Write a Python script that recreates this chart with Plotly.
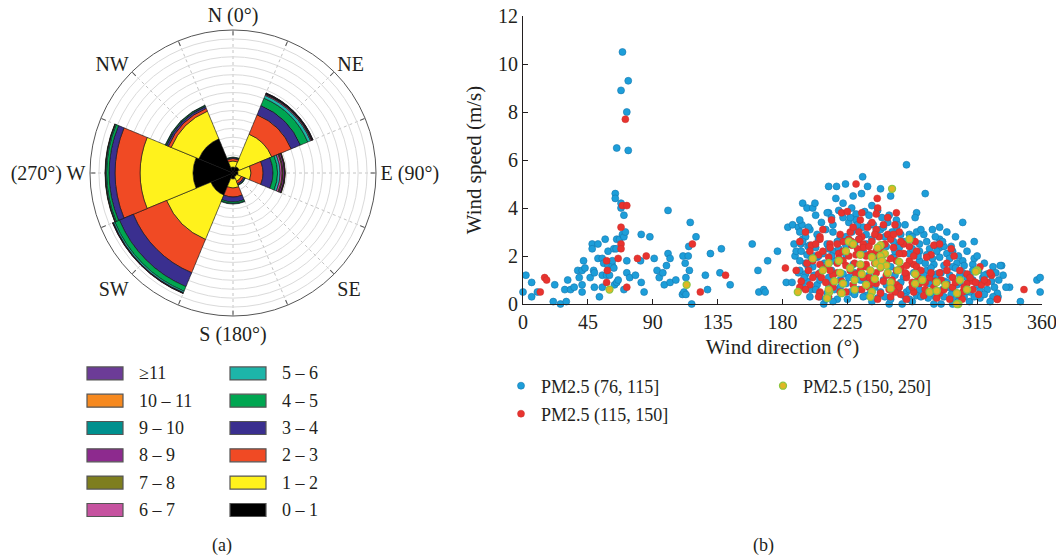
import plotly.graph_objects as go

# ---------------- Wind rose data (frequency units, stacked by speed bin) -------------
directions = [0, 45, 90, 135, 180, 225, 270, 315]
bin_labels = ["0 – 1", "1 – 2", "2 – 3", "3 – 4", "4 – 5", "5 – 6",
              "6 – 7", "7 – 8", "8 – 9", "9 – 10", "10 – 11", "≥11"]
bin_colors = ["#000000", "#FFF21C", "#F04A24", "#3A2F8F", "#00A651", "#1DB5A9",
              "#C653A0", "#7E7E1E", "#8D2A8E", "#00908E", "#F6891F", "#6C3C97"]
#            N     NE    E     SE    S     SW    W     NW
f_0_1   = [0.67, 0.78, 0.56, 0.45, 0.67, 2.68, 4.47, 4.14]
f_1_2   = [0.67, 3.92, 1.45, 0.56, 1.01, 5.37, 5.93, 3.35]
f_2_3   = [0.28, 2.35, 1.35, 0.28, 1.00, 4.03, 2.80, 0.34]
f_3_4   = [0.11, 1.12, 1.11, 0.16, 0.56, 1.68, 0.67, 0.22]
f_4_5   = [0.06, 0.89, 0.51, 0.06, 0.17, 0.56, 0.28, 0.12]
f_5_6   = [0.00, 0.34, 0.28, 0.00, 0.06, 0.17, 0.11, 0.05]
f_6_7   = [0.00, 0.11, 0.22, 0.00, 0.00, 0.05, 0.03, 0.00]
f_7_8   = [0.00, 0.05, 0.11, 0.00, 0.00, 0.03, 0.03, 0.00]
f_8_9   = [0.00, 0.06, 0.17, 0.00, 0.00, 0.03, 0.00, 0.00]
f_9_10  = [0.00, 0.03, 0.05, 0.00, 0.00, 0.00, 0.00, 0.00]
f_10_11 = [0.00, 0.02, 0.03, 0.00, 0.00, 0.00, 0.00, 0.00]
f_ge11  = [0.00, 0.03, 0.00, 0.00, 0.00, 0.00, 0.00, 0.00]
freqs = [f_0_1, f_1_2, f_2_3, f_3_4, f_4_5, f_5_6, f_6_7, f_7_8, f_8_9, f_9_10, f_10_11, f_ge11]

compass_vals = [i * 22.5 for i in range(16)]
compass_text = ["N (0°)", "", "NE", "", "E (90°)", "", "SE", "", "S (180°)", "",
                "SW", "", "(270°) W", "", "NW", ""]

# ---------------- Scatter data: (wind direction °, wind speed m/s) ------------------
blue_pts = [
    (0,0.5),(2,1.2),(6,0.9),(6,0.3),(10,0.5),(21,0.1),(22,0.8),(26,0),(29,0.6),(30,0.1),
    (31,1.0),(33,0.6),(35.5,0.7),(38,1.4),(39,1.1),(41,1.4),(41,0.8),(41,0.5),(42,1.8),(43,1.5),
    (46.6,1.1),(48,2.5),(48,2.3),(49,1.4),(49.5,1.3),(49.5,0.7),(52,2.5),(52,1.9),(53,0.3),(55,0.7),
    (55,1.9),(55,1.2),(56,1.7),(57,2.7),(58,1.2),(59,1.6),(59,2.2),(60,1.2),(62,1.6),(62,1.8),
    (63,1.5),(63,2.3),(63.5,0.8),(64.6,2.3),(65,2.7),(65,0.9),(65,6.5),(64,4.6),(64,4.4),(66,1.0),
    (67,2.7),(68,8.9),(68,4.2),(68,4.0),(69,2.9),(69,10.5),(70,2.8),(70,0.6),(70,3.7),(71,3.0),
    (72,8.0),(72,1.8),(72,1.3),(73,9.3),(73,6.4),(74,1.1),(78,1.2),(81.5,1.8),(82,2.9),(82,0.9),
    (84,0.5),(88,2.8),(91,1.9),(93,1.4),(94.5,1.1),(97,1.3),(98,0.8),(99.5,1.6),(100.6,3.9),(100.6,2.1),
    (102,1.9),(102,0.9),(106,1.0),(110.6,0.4),(111,2.0),(111.7,0.5),(112.5,1.7),(113,1.1),(113,0.4),(114.6,2.0),
    (115,2.4),(115.4,1.4),(116,3.4),(117,0),(120,2.8),(126.5,1.2),(128,0.6),(130,2.1),(136.6,1.3),(137.6,2.3),
    (143.7,0.8),(159,2.5),(163,1.4),(163.6,0.5),(167,0.6),(168,0.5),(169.7,1.8),(176.5,2.2),
    (182.6,0.9),(183.7,3.2),(186.6,0.9),(187,3.3),(188,2.5),(188.7,2.0),(189.5,2.2),(191,1.3),(191,3.2),(192.7,2.5),
    (193.5,3.3),(194,4.2),(194,2.7),(196,1.7),(197,4.0),(197.7,2.4),(199.6,1.6),(201,4.0),(202.5,4.2),(202,2.0),
    (208.6,0),(212,3.8),(212,4.9),(223.7,5.0),(229,4.5),(234.8,4.6),(235.6,5.3),(239,4.9),(248,4.8),(255,4.5),
    (266,5.8),(279,4.6),(273,3.8),(305,3.4),(313,2.6),(332,1.6),(337.5,0.7),(345,0.1),(356.5,1.0),(358.7,1.1),
    (358.7,0.5),(309.7,0.1),(329.5,0.3),(217.5,4.9),(254,0),(263,0),(285,0),(290,0),(298,0),
    (211,3.8),(219,3.9),(231,3.75),(237,3.85),
    (192,3.5),(215,3.3),(222,3.6),(226,3.4),(231,3.5),(241,3.3),(249,3.6),(253,3.4),(259,3.5),(265,3.3),(272,3.6),
    (192,3.0),(196,2.8),(199,3.1),(204,2.9),(215,3.0),(220,2.8),(231,3.1),(238,2.9),(245,3.0),(251,2.8),(259,3.1),(268,2.9),(273,3.0),
    (194,2.6),(199,2.45),(205,2.7),(211,2.5),(218,2.6),(224,2.45),(233,2.7),(238,2.5),(257,2.6),(261,2.45),(268,2.7),(275,2.5),(280,2.6),(286,2.45),(289,2.7),
    (193,2.2),(197,2.05),(203,2.35),(208,2.1),(215,2.2),(224,2.05),(261,2.35),(268,2.1),(275,2.2),(280,2.05),(289,2.35),(294,2.1),(298,2.2),
    (192,1.8),(197,1.65),(204,1.95),(209,1.7),(215,1.8),(229,1.65),(257,1.95),(268,1.7),(275,1.8),(285,1.65),(289,1.95),(301,1.7),(305,1.8),(312,1.65),(331,1.6),
    (192,1.4),(196,1.25),(201,1.55),(206,1.3),(214,1.4),(222,1.25),(255,1.55),(271,1.3),(280,1.4),(287,1.25),(298,1.55),(305,1.3),(312,1.4),(322,1.25),(326,1.55),
    (197,0.95),(204,0.8),(212,1.1),(224,0.85),(237,0.95),(252,0.8),(264,1.1),(282,0.85),(292,0.95),(301,0.8),(308,1.1),(317,0.85),(325,0.95),
    (200,0.6),(211,0.45),(220,0.7),(227,0.5),(233,0.6),(241,0.45),(256,0.7),(266,0.5),(275,0.6),(283,0.45),(295,0.7),(310,0.5),(317,0.6),(329,0.45),(335,0.7),
    (206,0.3),(218,0.2),(238,0.35),(246,0.25),(251,0.3),(268,0.2),(273,0.35),(281,0.25),(292,0.3),(300,0.2),(304,0.35),(317,0.25),(326,0.3),
    (210,3.1),(228,3.0),(236,3.2),(243,3.3),(248,3.1),(256,3.0),(262,2.9),(270,2.8),(278,2.9),(284,3.1),(276,3.1),(282,2.3),(287,2.2),(292,2.4),
    (296,1.9),(300,1.5),(303,1.2),(296,1.2),(292,1.6),(286,1.1),(283,1.5),(278,1.2),(272,0.9),(268,0.6),(262,0.9),(258,1.2),(250,1.0),(244,0.7),
    (240,1.2),(234,1.0),(230,1.3),(226,1.1),(220,1.0),(216,0.6),(212,0.8),(206,1.0),(202,1.2),(198,1.5),(208,1.6),(214,2.0),(219,2.3),(224,2.8),
    (230,2.5),(236,2.2),(242,2.7),(246,2.0),(252,2.4),(258,2.2),(264,2.6),(270,2.3),(274,2.0),(279,1.7),(284,1.9),(290,1.3),(294,0.9),(298,0.6),
    (303,0.9),(307,0.5),(312,1.0),(315,0.8),(319,1.1),(322,0.6),(316,1.4),(310,1.2),(306,1.6),(302,2.0),(297,2.4),(291,2.6),(286,2.8),(232,3.3),
    (227,3.6),(240,3.7),(250,3.2),(260,3.3),(254,3.7),(212,2.3),(205,2.0),(200,1.9),(195,1.1),(194,0.7),(199,0.3),(203,0.6),(210,0.2),(215,0.1),
    (225,0.2),(230,0.4),(236,0.3),(242,0.1),(248,0.5),(255,0.2),(260,0.5),(265,0.3),(270,0.1),(276,0.3),(280,0.5),(286,0.3),(291,0.6),(297,0.4),
    (302,0.1),(306,0.3),(313,0.3),(320,0.4),(324,0.1),(327,0.7),(330,1.0),(333,1.2),(328,1.3),(320,1.7),(313,1.9),(308,2.2),(315,2.0),(320,1.2),
    (305,2.5),(300,2.8),(294,3.0),(289,3.2),(246,3.9),(242,4.1),(228,4.0),(222,4.2),(214,3.6),(207,3.4),(203,3.7),(198,3.2),(217,4.4),
]
red_pts = [
    (12,0.5),(15,1.1),(16.4,1.0),(58,1.8),(58,0.9),(58.5,1.4),(66,1.9),(68,3.2),(68,2.5),(68,2.3),
    (69,4.1),(71,7.7),(72,4.1),(72,0.7),(79.4,1.9),(85.5,2.0),(117.5,2.5),(123,0.5),(140.5,1.2),
    (182,1.5),(189.5,1.4),(192,0.7),(206,0.5),(231,5.0),(235,3.8),(245.7,4.4),(246,4.0),(259,3.8),(299,2.0),
    (325,1.2),(329,0.2),(347.5,0.6),(304.6,0.2),
    (221,3.8),(225,3.85),(245,3.75),
    (214,3.5),(242,3.4),(253,3.6),(258,3.3),
    (196,3.0),(206,2.8),(208,3.1),(220,2.9),(227,3.0),(235,2.8),(245,3.1),(253,2.9),(261,3.0),
    (192,2.6),(200,2.45),(206,2.7),(213,2.5),(222,2.6),(228,2.45),(233,2.7),(236,2.5),(242,2.6),(249,2.45),(255,2.7),(264,2.5),(272,2.6),(285,2.45),(289,2.5),
    (199,2.2),(205,2.05),(213,2.35),(219,2.1),(222,2.2),(231,2.05),(236,2.35),(241,2.1),(245,2.2),(250,2.05),(257,2.35),(264,2.1),(273,2.2),(283,2.05),(297,2.3),
    (201,1.8),(206,1.65),(212,1.95),(218,1.7),(222,1.8),(238,1.65),(243,1.95),(252,1.7),(259,1.8),(271,1.65),(280,1.95),(294,1.7),
    (198,1.4),(205,1.25),(211,1.55),(218,1.3),(227,1.4),(231,1.25),(238,1.55),(245,1.3),(259,1.4),(266,1.25),(273,1.55),(289,1.3),(294,1.4),(308,1.25),(317,1.55),(324,1.3),
    (193,0.95),(199,0.8),(207,1.1),(215,0.85),(221,0.95),(229,0.8),(240,1.1),(245,0.85),(250,0.95),(259,0.8),(266,1.1),(275,0.85),(286,0.95),(294,0.8),(298,1.1),(308,0.85),(312,0.95),(318,0.8),(322,0.9),
    (196,0.6),(206,0.45),(215,0.7),(224,0.5),(235,0.6),(248,0.45),(261,0.7),(271,0.5),(279,0.6),(289,0.45),(298,0.7),(305,0.5),(312,0.6),
    (205,0.3),(266,0.2),(278,0.35),(287,0.25),(329,0.2),
    (226,2.7),(232,2.3),(238,2.0),(244,1.7),(248,1.5),(252,1.2),(256,1.0),(262,1.5),(268,1.8),(271,2.0),(276,1.4),(282,1.1),(285,0.7),(290,1.0),
    (234,1.4),(230,1.7),(226,2.0),(218,2.5),(215,1.2),(210,0.9),(220,0.5),(240,0.7),(254,0.6),(262,0.4),(270,0.7),(247,2.8),(251,2.5),(257,2.9),
    (262,2.6),(268,2.4),(239,3.2),(233,3.0),(228,2.6),(236,1.1),(242,0.9),(258,0.5),(274,1.1),(279,0.9),(283,1.3),(300,0.9),(303,1.4),(306,0.7),
    (310,1.1),(314,0.9),(320,1.0),(316,0.4),(302,0.4),(296,0.2),(292,0.6),(248,2.2),(255,1.9),(261,2.1),(266,1.6),(224,1.6),(219,1.9),(213,1.4),
    (208,2.2),(203,2.5),(240,2.4),(244,2.9),(250,3.3),(234,3.5),(229,3.2),(265,1.3),(270,0.9),(255,0.3),(246,0.2),(212,0.3),(201,1.1),(197,1.7),
]
green_pts = [
    (60,0.6),(113.5,0.8),(190.6,0.5),(212.5,0.5),(256,4.8),(268,2.7),(302,0),(315,1.4),
    (226,2.6),(229,2.5),(248,2.45),
    (224,2.2),(246,2.35),(251,2.1),(248,2.0),(234,2.05),
    (201,1.9),(212,1.7),(219,1.8),(234,1.65),(242,1.95),(245,1.7),(249,1.8),(252,1.6),(261,1.75),
    (208,1.4),(220,1.3),(227,1.5),(235,1.25),(241,1.4),(248,1.55),(253,1.3),(260,1.4),(272,1.25),(314,1.35),
    (216,0.95),(222,0.85),(230,1.0),(238,0.8),(244,1.05),(255,0.9),(272,0.85),(277,1.0),(287,0.9),(293,0.8),(303,1.0),
    (212,0.6),(221,0.45),(230,0.6),(242,0.5),(255,0.65),(282,0.5),(287,0.55),(301,0.45),(308,0.6),
    (211,0.25),(241,0.3),(301,0),
]
series_names = ["PM2.5 (76, 115]", "PM2.5 (115, 150]", "PM2.5 (150, 250]"]
x_ticks = [0, 45, 90, 135, 180, 225, 270, 315, 360]
y_ticks = [0, 2, 4, 6, 8, 10, 12]

FONT = "Liberation Serif, Times New Roman, serif"
W, H = 1056, 557
TXT = "#231F20"

fig = go.Figure()

# wind rose bars
for lab, col, vals in zip(bin_labels, bin_colors, freqs):
    fig.add_trace(go.Barpolar(
        r=vals, theta=directions, width=[45] * len(directions), name=lab,
        marker=dict(color=col, line=dict(color="#111111", width=0.6)),
        showlegend=False, subplot="polar",
    ))

# scatter
def xy(pts):
    return [p[0] for p in pts], [p[1] for p in pts]

bx, by = xy(blue_pts)
rx, ry = xy(red_pts)
gx, gy = xy(green_pts)
fig.add_trace(go.Scatter(x=bx, y=by, mode="markers", name=series_names[0], cliponaxis=False,
                         marker=dict(size=7, color="#1D9ED9", line=dict(color="#1677AE", width=0.6)),
                         legend="legend2"))
fig.add_trace(go.Scatter(x=rx, y=ry, mode="markers", name=series_names[1], cliponaxis=False,
                         marker=dict(size=7, color="#E8332F", line=dict(color="#C9302C", width=0.5)),
                         legend="legend3"))
fig.add_trace(go.Scatter(x=gx, y=gy, mode="markers", name=series_names[2], cliponaxis=False,
                         marker=dict(size=7, color="#E0B624", line=dict(color="#8CC63F", width=1.3)),
                         legend="legend4"))

# convert page pixel positions to paper fractions
px = lambda v: v / W
py = lambda v: 1 - v / H

legend_common = dict(orientation="v", xanchor="left", yanchor="middle", bgcolor="rgba(0,0,0,0)",
                     font=dict(family=FONT, size=18, color=TXT), itemwidth=30)

fig.update_layout(
    width=W, height=H,
    margin=dict(l=0, r=0, t=0, b=0),
    paper_bgcolor="white", plot_bgcolor="white",
    font=dict(family=FONT, size=18, color=TXT),
    polar=dict(
        domain=dict(x=[px(90), px(376)], y=[py(316), py(30)]),
        bgcolor="white", bargap=0, barmode="stack",
        radialaxis=dict(range=[0, 16], dtick=1, showticklabels=False, ticks="", showline=False,
                        gridcolor="#DADADA", gridwidth=0.8),
        angularaxis=dict(rotation=90, direction="clockwise", tickmode="array",
                         tickvals=compass_vals, ticktext=compass_text,
                         ticks="inside", ticklen=5, tickcolor="#555555",
                         showline=True, linecolor="#555555", linewidth=1,
                         gridcolor="#C4C4C4", griddash="dot", gridwidth=0.8,
                         tickfont=dict(family=FONT, size=20, color=TXT)),
    ),
    xaxis=dict(domain=[px(523), px(1042)], range=[0, 360], tickvals=x_ticks, showgrid=False,
               zeroline=False, showline=True, linecolor=TXT, linewidth=1,
               ticks="inside", ticklen=5, tickcolor=TXT, automargin=False,
               ticklabeloverflow="allow",
               tickfont=dict(family=FONT, size=20, color=TXT),
               title=dict(text="Wind direction (°)", standoff=7, font=dict(family=FONT, size=21, color=TXT))),
    yaxis=dict(domain=[py(304), py(16)], range=[0, 12], tickvals=y_ticks, showgrid=False,
               zeroline=False, showline=True, linecolor=TXT, linewidth=1,
               ticks="inside", ticklen=5, tickcolor=TXT, automargin=False,
               ticklabeloverflow="allow",
               tickfont=dict(family=FONT, size=20, color=TXT),
               title=dict(text="Wind speed (m/s)", standoff=10, font=dict(family=FONT, size=21, color=TXT))),
    legend2=dict(x=px(501), y=py(386), **legend_common),
    legend3=dict(x=px(501), y=py(414), **legend_common),
    legend4=dict(x=px(763), y=py(386), **legend_common),
)

# wind-rose legend (key boxes + labels)
left_col = ["≥11", "10 – 11", "9 – 10", "8 – 9", "7 – 8", "6 – 7"]
right_col = ["5 – 6", "4 – 5", "3 – 4", "2 – 3", "1 – 2", "0 – 1"]
color_of = dict(zip(bin_labels, bin_colors))
row_y = [373.4, 400.7, 428.0, 455.3, 482.6, 510.0]
for col_labels, bx0 in ((left_col, 87), (right_col, 230)):
    for lab, yy in zip(col_labels, row_y):
        fig.add_shape(type="rect", xref="paper", yref="paper",
                      x0=px(bx0), x1=px(bx0 + 36), y0=py(yy + 6.5), y1=py(yy - 6.5),
                      fillcolor=color_of[lab], line=dict(color="#555555", width=1.2))
        fig.add_annotation(x=px(bx0 + 50), y=py(yy), xref="paper", yref="paper",
                           text=lab, showarrow=False, xanchor="left", yanchor="middle",
                           font=dict(family=FONT, size=18, color=TXT))

fig.add_annotation(x=px(222), y=py(545), xref="paper", yref="paper", text="(a)", showarrow=False,
                   xanchor="center", yanchor="middle",
                   font=dict(family=FONT, size=18, color=TXT))
fig.add_annotation(x=px(763), y=py(545), xref="paper", yref="paper", text="(b)", showarrow=False,
                   xanchor="center", yanchor="middle",
                   font=dict(family=FONT, size=18, color=TXT))

# remove the browser's default page margin so the figure fills the 1056x557 window
fig.write_html("out.html",
               config={"displayModeBar": False},
               post_script="document.documentElement.style.margin='0';"
                           "document.body.style.margin='0';"
                           "document.documentElement.style.overflow='hidden';"
                           "document.body.style.overflow='hidden';")
